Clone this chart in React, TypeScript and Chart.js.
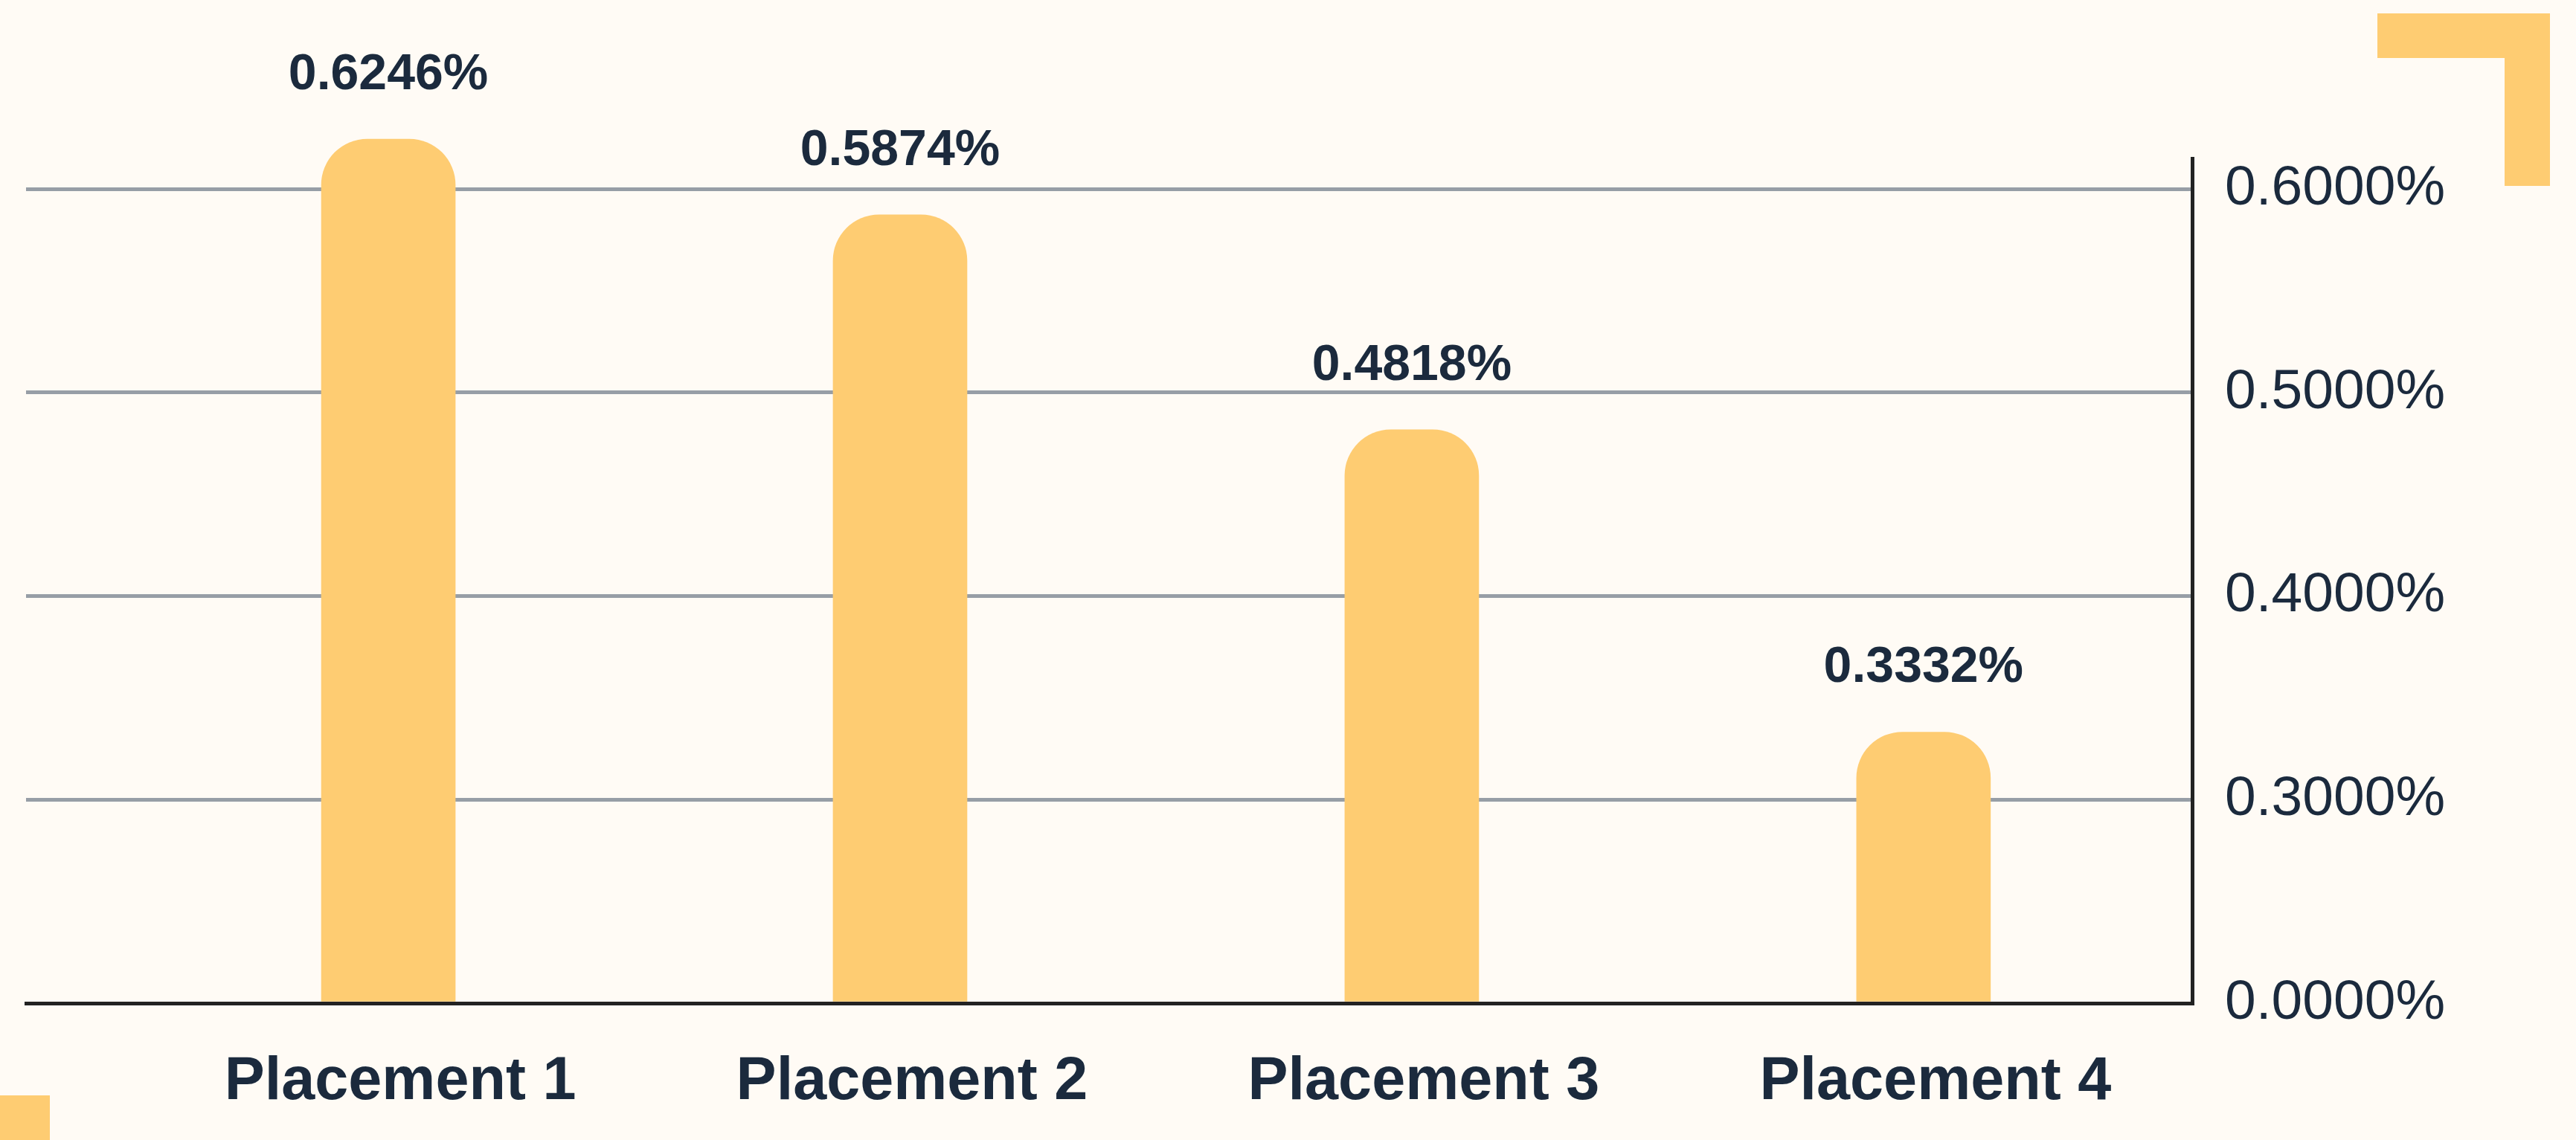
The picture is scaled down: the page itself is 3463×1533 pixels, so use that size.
import React, { useEffect, useRef } from "react";
import { Chart, registerables } from "chart.js";

Chart.register(...registerables);

// ---- data ----
const categories = ["Placement 1", "Placement 2", "Placement 3", "Placement 4"];
const categoryPositions = [1, 2, 3, 4];
const values = [0.6246, 0.5874, 0.4818, 0.3332];
// broken value axis: the bottom of the axis (0.2 on the scale) is labelled 0.0000%
const yTickValues = [0.2, 0.3, 0.4, 0.5, 0.6];
const yTickLabels = ["0.0000%", "0.3000%", "0.4000%", "0.5000%", "0.6000%"];

// ---- styles ----
const W = 3463;
const H = 1533;
const BG = "#FFFBF5";
const BAR = "#FECC72";
const INK = "#1B2A3D";
const AXIS = "#222222";
const GRID = "#979EA6";
const FONT = "'Liberation Sans', Arial, Helvetica, sans-serif";

const valueLabelPlugin = {
  id: "valueLabels",
  afterDatasetsDraw(chart: any) {
    const ctx = chart.ctx;
    const meta = chart.getDatasetMeta(0);
    ctx.save();
    ctx.font = `bold 68px ${FONT}`;
    ctx.fillStyle = INK;
    ctx.textAlign = "center";
    ctx.textBaseline = "middle";
    meta.data.forEach((el: any, i: number) => {
      ctx.fillText(values[i].toFixed(4) + "%", el.x, el.y - 86);
    });
    ctx.restore();
  },
};

export default function App() {
  const canvasRef = useRef<HTMLCanvasElement | null>(null);

  useEffect(() => {
    const canvas = canvasRef.current;
    if (!canvas) return;
    const chart = new Chart(canvas, {
      type: "bar",
      data: {
        datasets: [
          {
            data: categoryPositions.map((x, i) => ({ x, y: values[i] })),
            base: yTickValues[0],
            backgroundColor: BAR,
            barThickness: 180,
            borderRadius: { topLeft: 62, topRight: 62, bottomLeft: 0, bottomRight: 0 },
            clip: false as any,
          } as any,
        ],
      },
      options: {
        responsive: false,
        maintainAspectRatio: false,
        animation: false,
        devicePixelRatio: 1,
        layout: { padding: { left: 35, top: 213, right: 0, bottom: 0 } },
        plugins: {
          legend: { display: false },
          tooltip: { enabled: false },
        },
        scales: {
          x: {
            type: "linear",
            min: 0.292,
            max: 4.525,
            offset: false,
            z: 1,
            afterBuildTicks: (s: any) => {
              s.ticks = categoryPositions.map((v) => ({ value: v }));
            },
            afterFit: (s: any) => {
              s.height = 184;
            },
            grid: { display: false, drawTicks: false, offset: false },
            border: { display: true, color: AXIS, width: 5 },
            ticks: {
              callback: (v: any) => {
                const idx = categoryPositions.indexOf(Number(v));
                return idx >= 0 ? categories[idx] : "";
              },
              font: { family: FONT, size: 81, weight: "bold" },
              color: INK,
              padding: 58,
              labelOffset: 16,
              maxRotation: 0,
              autoSkip: false,
            },
          } as any,
          y: {
            type: "linear",
            position: "right",
            min: 0.2,
            max: 0.6151,
            beginAtZero: false,
            afterBuildTicks: (s: any) => {
              s.ticks = yTickValues.map((v) => ({ value: v }));
            },
            afterFit: (s: any) => {
              s.width = W - 2947;
            },
            grid: {
              color: (c: any) =>
                c.tick && c.tick.value === yTickValues[0] ? "rgba(0,0,0,0)" : GRID,
              lineWidth: 5,
              drawTicks: false,
            },
            border: { display: true, color: AXIS, width: 5 },
            ticks: {
              callback: (v: any) => {
                const idx = yTickValues.indexOf(Number(v));
                return idx >= 0 ? yTickLabels[idx] : "";
              },
              font: { family: FONT, size: 75 },
              color: INK,
              padding: 44,
            },
          } as any,
        },
      },
      plugins: [valueLabelPlugin],
    });
    return () => chart.destroy();
  }, []);

  return (
    <div
      style={{
        position: "fixed",
        left: 0,
        top: 0,
        width: W,
        height: H,
        background: BG,
        overflow: "hidden",
      }}
    >
      <canvas ref={canvasRef} width={W} height={H} style={{ display: "block", width: W, height: H }} />
      {/* decorative corner bracket, top right */}
      <div style={{ position: "absolute", left: 3196, top: 18, width: 232, height: 60, background: BAR }} />
      <div style={{ position: "absolute", left: 3367, top: 18, width: 61, height: 232, background: BAR }} />
      {/* decorative square, bottom left */}
      <div style={{ position: "absolute", left: 0, top: 1473, width: 67, height: 60, background: BAR }} />
    </div>
  );
}
